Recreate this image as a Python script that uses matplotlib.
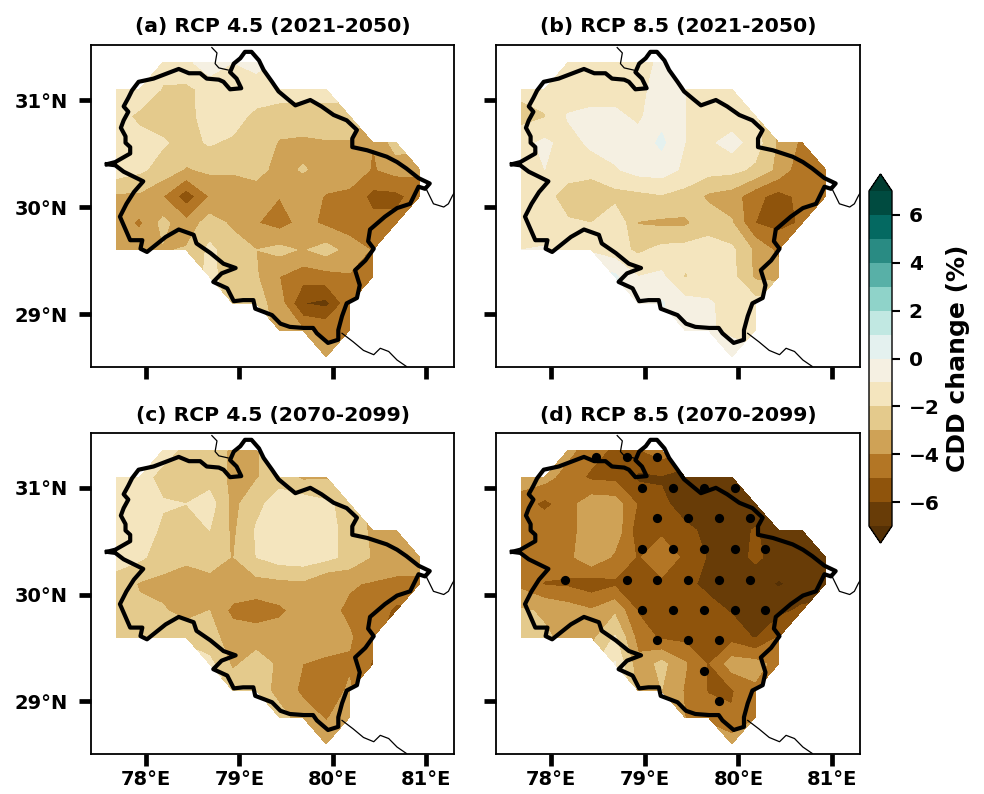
import numpy as np
import matplotlib
matplotlib.use("Agg")
import matplotlib.pyplot as plt

n = np.nan
lons = [77.68 + 0.25 * i for i in range(14)]
lats = [31.35 - 0.25 * j for j in range(12)]

cdd_a = [
 [n,n,-1.5,-1.3,-0.3,-1.0,-0.8,n,n,n,n,n,n,n],
 [-1.6,-1.0,-2.1,-2.2,-1.7,-1.5,-1.3,-1.6,-1.7,-1.7,n,n,n,n],
 [-1.5,-2.3,-2.4,-2.3,-1.6,-1.5,-2.3,-2.4,-2.4,-2.3,-2.3,n,n,n],
 [-1.5,-1.5,-1.9,-2.3,-1.9,-2.2,-2.3,-3.1,-3.2,-3.1,-3.1,-4.0,-2.5,n],
 [-1.4,-1.8,-2.4,-3.1,-2.8,-2.9,-2.8,-3.2,-2.95,-3.2,-3.3,-4.1,-3.6,-3.8],
 [-3.2,-3.2,-4.0,-5.6,-4.0,-3.5,-3.3,-3.98,-3.4,-4.1,-4.3,-5.3,-5.3,-4.5],
 [-3.5,-4.2,-2.7,-3.7,-2.5,-3.2,-3.95,-4.4,-3.7,-4.2,-4.6,-4.7,-4.7,n],
 [-3.3,-3.2,-3.1,-2.9,-1.8,-2.5,-3.0,-2.7,-3.1,-2.6,-3.4,-4.1,n,n],
 [n,n,n,n,-1.7,-2.6,-2.9,-4.0,-4.6,-4.4,-4.1,-4.3,n,n],
 [n,n,n,n,n,-2.3,-2.6,-3.5,-6.0,-6.3,-4.3,n,n,n],
 [n,n,n,n,n,n,n,-3.3,-3.9,-4.2,-4.1,n,n,n],
 [n,n,n,n,n,n,n,n,n,-3.8,n,n,n,n],
]
cdd_b = [
 [n,n,-1.5,-1.5,-1.3,-1.4,-0.8,n,n,n,n,n,n,n],
 [-1.7,-1.3,-1.9,-1.4,-1.4,-1.2,-0.7,-1.0,-1.2,-1.6,n,n,n,n],
 [-2.4,-2.1,-0.9,-0.8,-0.8,-1.2,-0.3,-1.0,-1.5,-1.6,-1.8,n,n,n],
 [-1.3,-0.8,-1.4,-0.8,-0.6,-0.6,0.2,-1.0,-1.2,-0.6,-1.5,-3.2,-4.2,n],
 [-1.3,-1.0,-1.6,-1.5,-1.1,-0.6,-0.5,-1.2,-1.6,-1.7,-2.2,-3.3,-4.7,-4.1],
 [-1.6,-1.7,-2.4,-3.0,-2.4,-2.3,-2.1,-2.4,-3.2,-3.5,-4.7,-5.4,-4.7,-4.6],
 [-1.3,-1.6,-1.9,-2.0,-1.1,-3.05,-3.2,-3.2,-2.4,-2.9,-5.0,-5.3,-4.9,n],
 [-1.0,-0.9,-1.3,-1.2,-1.6,-2.2,-1.7,-1.6,-1.6,-1.8,-3.2,-4.3,n,n],
 [n,n,n,n,0.2,-1.0,-0.8,-2.1,-1.5,-1.7,-3.2,-3.3,n,n],
 [n,n,n,n,n,-0.9,0.1,-0.6,-0.9,-1.3,-1.6,n,n,n],
 [n,n,n,n,n,n,n,-0.8,-0.9,-1.2,-1.4,n,n,n],
 [n,n,n,n,n,n,n,n,n,-0.5,n,n,n,n],
]
cdd_c = [
 [n,n,-1.5,-2.3,-2.4,-3.2,-3.1,n,n,n,n,n,n,n],
 [-1.6,-1.5,-2.4,-2.5,-2.5,-3.2,-3.1,-2.4,-3.2,-3.1,n,n,n,n],
 [-1.4,-1.5,-1.9,-2.0,-1.5,-3.3,-2.3,-1.5,-1.4,-1.8,-2.4,n,n,n],
 [-1.5,-1.4,-2.2,-2.4,-2.0,-3.2,-1.9,-1.4,-1.3,-1.6,-2.4,-3.2,-4.0,n],
 [-1.7,-1.8,-2.5,-2.6,-2.6,-3.05,-2.0,-1.5,-1.4,-1.7,-2.3,-3.1,-3.3,-3.3],
 [-2.3,-3.1,-3.3,-4.0,-3.3,-3.2,-3.4,-3.3,-3.2,-4.0,-3.9,-4.1,-4.3,-4.3],
 [-2.4,-2.8,-2.9,-3.4,-3.0,-4.3,-4.5,-4.2,-3.6,-3.7,-4.2,-4.4,-5.2,n],
 [-2.4,-2.4,-2.4,-2.3,-2.7,-3.4,-3.5,-3.5,-3.4,-3.5,-3.9,-4.7,n,n],
 [n,n,n,n,-1.7,-3.2,-2.5,-3.2,-4.0,-4.2,-4.1,-5.1,n,n],
 [n,n,n,n,n,-2.3,-2.4,-3.4,-4.2,-4.4,-3.9,n,n,n],
 [n,n,n,n,n,n,n,-2.6,-3.5,-4.1,-3.4,n,n,n],
 [n,n,n,n,n,n,n,n,n,-3.4,n,n,n,n],
]
cdd_d = [
 [n,n,-3.7,-4.6,-5.2,-5.1,-4.5,n,n,n,n,n,n,n],
 [-3.5,-3.6,-4.5,-5.2,-5.3,-6.2,-6.1,-6.5,-6.7,-6.7,n,n,n,n],
 [-4.5,-5.3,-4.4,-3.4,-3.5,-5.1,-5.8,-6.4,-6.6,-6.7,-6.7,n,n,n],
 [-4.3,-4.2,-4.4,-3.4,-3.3,-5.6,-5.2,-5.8,-6.2,-6.5,-5.9,-6.6,-6.8,n],
 [-4.1,-4.2,-4.3,-3.2,-4.2,-5.1,-4.4,-5.2,-6.1,-6.5,-5.8,-6.4,-6.7,-6.7],
 [-4.3,-5.1,-5.2,-5.6,-5.2,-5.8,-5.2,-5.7,-6.3,-6.5,-6.6,-7.1,-6.7,-6.6],
 [-2.9,-3.1,-3.5,-3.9,-3.2,-5.1,-5.2,-5.4,-5.6,-6.1,-6.4,-6.3,-5.8,n],
 [-2.5,-2.9,-3.2,-3.3,-1.9,-4.4,-5.2,-5.3,-5.4,-5.4,-6.1,-5.0,n,n],
 [n,n,n,n,-0.9,-3.7,-2.7,-3.9,-5.1,-3.5,-3.6,-4.4,n,n],
 [n,n,n,n,n,-3.2,-3.0,-4.1,-5.1,-5.1,-4.2,n,n,n],
 [n,n,n,n,n,n,n,-4.0,-4.3,-4.9,-4.1,n,n,n],
 [n,n,n,n,n,n,n,n,n,-3.5,n,n,n,n],
]

sig_lon = [78.48,78.81,79.135, 78.97,79.30,79.63,79.96, 79.135,79.46,79.79,80.12,
           78.97,79.30,79.63,79.96,80.29, 78.15,78.81,79.135,79.46,79.79,80.12,
           78.97,79.30,79.63,79.96,80.29, 79.135,79.46,79.79, 79.63, 79.79]
sig_lat = [31.285]*3 + [31.0]*4 + [30.715]*4 + [30.43]*5 + [30.14]*6 + [29.855]*5 + [29.57]*3 + [29.28] + [29.0]

state_lon = [77.58,77.67,77.83,77.83,77.78,77.78,77.73,77.76,77.81,77.76,77.81,77.85,77.92,78.08,78.26,78.35,
 78.46,78.58,78.65,78.78,78.83,78.90,79.02,78.97,78.90,78.94,79.01,79.06,79.13,79.21,79.26,79.35,79.42,79.53,
 79.60,79.76,79.88,80.01,80.15,80.26,80.21,80.21,80.37,80.58,80.69,80.79,80.92,81.04,80.99,80.92,80.83,80.69,
 80.56,80.40,80.38,80.44,80.35,80.24,80.29,80.26,80.15,80.10,80.06,80.06,79.95,79.83,79.79,79.69,79.54,79.44,
 79.35,79.17,79.15,79.04,78.94,78.87,78.72,78.81,78.96,78.83,78.69,78.54,78.51,78.35,78.21,78.01,77.94,77.96,
 77.83,77.78,77.72,77.79,77.87,77.97,77.76,77.67,77.58]
state_lat = [30.40,30.42,30.50,30.56,30.60,30.66,30.74,30.81,30.89,30.94,31.02,31.09,31.17,31.20,31.26,31.29,
 31.25,31.25,31.20,31.19,31.17,31.10,31.11,31.20,31.26,31.34,31.39,31.45,31.45,31.37,31.28,31.17,31.08,31.00,
 30.95,31.00,30.94,30.86,30.81,30.72,30.64,30.56,30.53,30.47,30.42,30.36,30.27,30.22,30.17,30.19,30.03,29.99,
 29.91,29.79,29.68,29.61,29.50,29.41,29.27,29.15,29.10,28.98,28.85,28.76,28.73,28.82,28.87,28.87,28.88,28.91,
 28.99,29.05,29.13,29.13,29.12,29.24,29.30,29.38,29.43,29.47,29.57,29.66,29.74,29.79,29.72,29.58,29.61,29.69,
 29.69,29.79,29.91,30.03,30.14,30.24,30.33,30.39,30.40]

border1_lon = [78.705,78.76,78.74,78.78,78.88]
border1_lat = [31.49,31.44,31.34,31.30,31.28]
border2_lon = [80.99,81.08,81.19,81.24,81.28,81.30]
border2_lat = [30.19,30.03,30.00,30.03,30.10,30.13]
border3_lon = [80.10,80.22,80.33,80.44,80.51,80.60,80.69,80.79]
border3_lat = [28.82,28.74,28.66,28.62,28.68,28.65,28.57,28.51]

titles = ["(a) RCP 4.5 (2021-2050)", "(b) RCP 8.5 (2021-2050)",
          "(c) RCP 4.5 (2070-2099)", "(d) RCP 8.5 (2070-2099)"]
panels = [cdd_a, cdd_b, cdd_c, cdd_d]
levels = np.arange(-7, 8, 1)
cbar_ticks = [-6, -4, -2, 0, 2, 4, 6]
lon_ticks = [78, 79, 80, 81]
lat_ticks = [29, 30, 31]

W, H = 984, 794
plt.rcParams["font.family"] = "DejaVu Sans"
plt.rcParams["font.weight"] = "bold"
fig = plt.figure(figsize=(W / 100, H / 100), dpi=100)

def px_axes(l, r, t, b):
    return fig.add_axes([l / W, 1 - b / H, (r - l) / W, (b - t) / H])

boxes = [(91, 454, 45, 367), (496, 860, 45, 367), (91, 454, 433, 754), (496, 860, 433, 754)]
for k, (vals, box, title) in enumerate(zip(panels, boxes, titles)):
    ax = px_axes(*box)
    z = np.ma.masked_invalid(np.array(vals, dtype=float))
    cf = ax.contourf(lons, lats, z, levels=levels, cmap="BrBG", extend="both")
    if k == 3:
        ax.scatter(sig_lon, sig_lat, s=44, c="black", zorder=3, linewidths=0)
    for lo, la in ((border1_lon, border1_lat), (border2_lon, border2_lat), (border3_lon, border3_lat)):
        ax.plot(lo, la, color="black", lw=0.9, zorder=4)
    ax.plot(state_lon, state_lat, color="black", lw=3.0, zorder=5, solid_joinstyle="round")
    ax.set_xlim(77.41, 81.30)
    ax.set_ylim(28.505, 31.514)
    ax.set_title(title, fontsize=14.7, fontweight="bold", pad=9)
    ax.set_xticks(lon_ticks)
    ax.set_yticks(lat_ticks)
    ax.tick_params(axis="y", length=8.6, width=3.4, labelsize=14, pad=8, labelleft=k in (0, 2))
    ax.tick_params(axis="x", length=8.6, width=3.4, labelsize=14, pad=3, labelbottom=k > 1)
    ax.set_xticklabels([f"{v}°E" for v in lon_ticks] if k > 1 else [""] * 4)
    ax.set_yticklabels([f"{v}°N" for v in lat_ticks] if k in (0, 2) else [""] * 3)
    for s in ax.spines.values():
        s.set_linewidth(1.3)

cax = px_axes(869, 892, 174, 543)
cb = fig.colorbar(cf, cax=cax, extend="both", extendfrac=0.0507, ticks=cbar_ticks, drawedges=False)
cb.ax.tick_params(length=6, width=1.5, labelsize=14.5, pad=6)
cb.set_label("CDD change (%)", fontsize=18, fontweight="bold", labelpad=5)
cb.outline.set_linewidth(1.0)

fig.savefig("out.png", dpi=100)
